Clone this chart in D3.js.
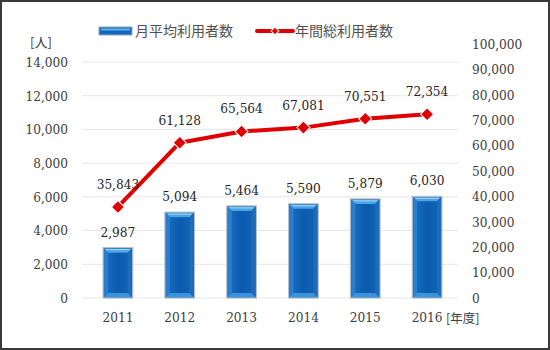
<!DOCTYPE html>
<html><head><meta charset="utf-8">
<script src="https://cdn.jsdelivr.net/npm/d3@7"></script>
<style>body{margin:0;background:#fff}svg{display:block}</style>
</head><body>
<svg id="c" width="550" height="350"></svg>
<script>
const years = ["2011","2012","2013","2014","2015","2016"];
const monthlyAvg = [2987,5094,5464,5590,5879,6030];
const annualTotal = [35843,61128,65564,67081,70551,72354];
const leftTicks = [0,2000,4000,6000,8000,10000,12000,14000];
const rightTicks = [0,10000,20000,30000,40000,50000,60000,70000,80000,90000,100000];
const seriesNames = ["月平均利用者数","年間総利用者数"];

const svg = d3.select("#c");
const fmt = d3.format(",");
const serif = "'DejaVu Serif Condensed', 'DejaVu Serif', 'Liberation Serif', serif";
const fs = 13.5;
const jp = "'Noto Sans CJK JP', sans-serif";
const textCol = "#404040";

svg.append("rect").attr("x",1).attr("y",1).attr("width",548).attr("height",348)
  .attr("fill","#fff").attr("stroke","#3a3a3a").attr("stroke-width",2);

const x = d3.scaleBand().domain(years).range([87,458]).paddingInner(0.52).paddingOuter(0.26);
const yL = d3.scaleLinear().domain([0,14000]).range([298,62]);
const yR = d3.scaleLinear().domain([0,100000]).range([298,44]);

function styleText(sel){
  sel.attr("font-family",serif).attr("font-stretch","condensed").attr("font-size",fs).attr("fill",textCol);
}

// gridlines
svg.append("g").selectAll("line").data(leftTicks).join("line")
  .attr("x1",82).attr("x2",458).attr("y1",d=>yL(d)).attr("y2",d=>yL(d))
  .attr("stroke","#e6e6e6").attr("stroke-width",1);

// left axis
const gL = svg.append("g").attr("transform","translate(68,0)")
  .call(d3.axisLeft(yL).tickValues(leftTicks).tickFormat(fmt).tickSize(0).tickPadding(0));
gL.select(".domain").remove();
styleText(gL.selectAll("text"));

// right axis
const gR = svg.append("g").attr("transform","translate(472,0)")
  .call(d3.axisRight(yR).tickValues(rightTicks).tickFormat(fmt).tickSize(0).tickPadding(0));
gR.select(".domain").remove();
styleText(gR.selectAll("text"));

// x axis
const gX = svg.append("g").attr("transform","translate(0,312)")
  .call(d3.axisBottom(x).tickSize(0).tickPadding(0));
gX.select(".domain").remove();
styleText(gX.selectAll("text"));

svg.append("text").attr("x",41).attr("y",47).attr("text-anchor","middle")
  .attr("font-family",jp).attr("font-size",13).attr("fill",textCol).text("[人]");
svg.append("text").attr("x",446).attr("y",323)
  .attr("font-family",jp).attr("font-size",12.5).attr("fill",textCol).text("[年度]");

// bars
const defs = svg.append("defs");
const gr = defs.append("linearGradient").attr("id","bg").attr("x1","0").attr("x2","1");
gr.append("stop").attr("offset","0").attr("stop-color","#1b6fc2");
gr.append("stop").attr("offset","0.5").attr("stop-color","#0a5bae");
gr.append("stop").attr("offset","1").attr("stop-color","#1466b8");

const bars = svg.append("g").selectAll("g").data(monthlyAvg).join("g");
bars.each(function(v,i){
  const g = d3.select(this);
  const x0 = x(years[i]), w = x.bandwidth(), t = yL(v), b = yL(0);
  g.append("rect").attr("x",x0).attr("y",t).attr("width",w).attr("height",b-t)
    .attr("fill","url(#bg)").attr("stroke","#b8c2cc").attr("stroke-width",1.2);
  const bv = 4;
  g.append("polygon").attr("points",[[x0+1,t+1],[x0+w-1,t+1],[x0+w-1-bv,t+1+bv],[x0+1+bv,t+1+bv]].join(" "))
    .attr("fill","#4aa3e6");
  g.append("line").attr("x1",x0+3).attr("x2",x0+w-3).attr("y1",t+2).attr("y2",t+2).attr("stroke","#a9d8f7").attr("stroke-width",1);
  g.append("polygon").attr("points",[[x0+1,t+1],[x0+1+bv,t+1+bv],[x0+1+bv,b-1-bv],[x0+1,b-1]].join(" "))
    .attr("fill","#2a7ed0");
  g.append("polygon").attr("points",[[x0+w-1,t+1],[x0+w-1-bv,t+1+bv],[x0+w-1-bv,b-1-bv],[x0+w-1,b-1]].join(" "))
    .attr("fill","#1e6cb9");
  g.append("polygon").attr("points",[[x0+1,b-1],[x0+1+bv,b-1-bv],[x0+w-1-bv,b-1-bv],[x0+w-1,b-1]].join(" "))
    .attr("fill","#3b93dc");
});

const bl = svg.append("g").selectAll("text").data(monthlyAvg).join("text")
  .attr("x",(d,i)=>x(years[i])+x.bandwidth()/2).attr("y",d=>yL(d)-11)
  .attr("text-anchor","middle").text(fmt);
styleText(bl); bl.attr("fill","#262626");

// line
const cx = i => x(years[i])+x.bandwidth()/2;
const line = d3.line().x((d,i)=>cx(i)).y(d=>yR(d));
svg.append("path").datum(annualTotal).attr("d",line).attr("fill","none")
  .attr("stroke","#e00000").attr("stroke-width",4).attr("stroke-linejoin","round");
svg.append("g").selectAll("path").data(annualTotal).join("path")
  .attr("d",d3.symbol().type(d3.symbolSquare).size(85))
  .attr("transform",(d,i)=>`translate(${cx(i)},${yR(d)}) rotate(45)`)
  .attr("fill","#e00000").attr("stroke","#fff").attr("stroke-width",1);
const ll = svg.append("g").selectAll("text").data(annualTotal).join("text")
  .attr("x",(d,i)=>cx(i)).attr("y",d=>yR(d)-18)
  .attr("text-anchor","middle").text(fmt);
styleText(ll); ll.attr("fill","#262626");

// legend
const lg = svg.append("g");
lg.append("rect").attr("x",99).attr("y",27).attr("width",33).attr("height",8)
  .attr("fill","#1467bd").attr("stroke","#9aa6b2").attr("stroke-width",1);
lg.append("rect").attr("x",101).attr("y",28.5).attr("width",29).attr("height",2).attr("fill","#5fb1ea");
lg.append("text").attr("x",135).attr("y",36).attr("font-family",jp).attr("font-size",14)
  .attr("fill","#505050").text(seriesNames[0]);
lg.append("line").attr("x1",257).attr("x2",293).attr("y1",31).attr("y2",31)
  .attr("stroke","#e00000").attr("stroke-width",4).attr("stroke-linecap","round");
lg.append("path").attr("d",d3.symbol().type(d3.symbolSquare).size(30))
  .attr("transform","translate(275,31) rotate(45)").attr("fill","#e00000").attr("stroke","#fff").attr("stroke-width",1);
lg.append("text").attr("x",295).attr("y",36).attr("font-family",jp).attr("font-size",14)
  .attr("fill","#505050").text(seriesNames[1]);
</script>
</body></html>
